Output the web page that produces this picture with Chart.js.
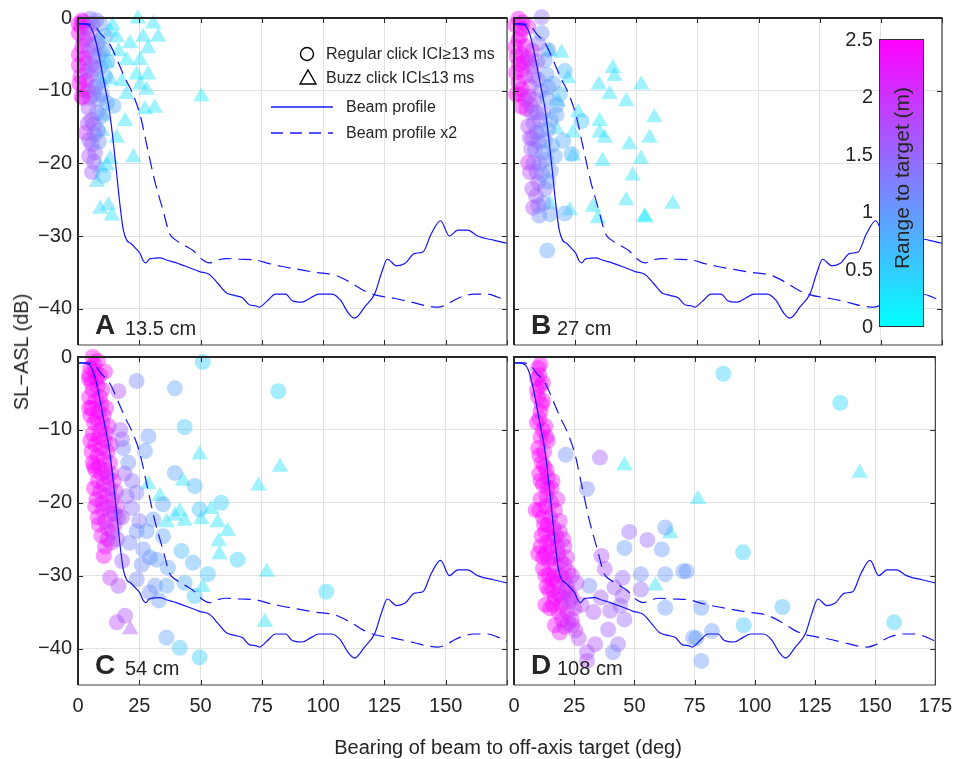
<!DOCTYPE html>
<html>
<head>
<meta charset="utf-8">
<script src="https://cdn.jsdelivr.net/npm/chart.js@4.4.0/dist/chart.umd.min.js"></script>
<style>
body { margin: 0; background: #fff; }
#wrap { position: relative; width: 961px; height: 759px; font-family: "Liberation Sans", Arial, sans-serif; color: #262626; overflow: hidden; }
canvas { position: absolute; left: 0; top: 0; }
.t { position: absolute; white-space: nowrap; line-height: 1; }
.lab { font-weight: bold; font-size: 28px; }
.sub { font-size: 20px; }
.leg { font-size: 16px; }
.cbt { font-size: 20px; text-align: right; width: 40px; }
#cbar { position: absolute; left: 879px; top: 39px; width: 43px; height: 286px; border: 1px solid #333; background: linear-gradient(to top, #00ffff, #ff00ff); z-index: 5; }
</style>
</head>
<body>
<div id="wrap">
  <canvas id="cA" width="961" height="759"></canvas>
  <canvas id="cB" width="961" height="759"></canvas>
  <canvas id="cC" width="961" height="759"></canvas>
  <canvas id="cD" width="961" height="759"></canvas>
</div>
<script>
// eixos
const xTicks = [0, 25, 50, 75, 100, 125, 150, 175];
const yTicks = [0, -10, -20, -30, -40];
const cbTicks = [0, 0.5, 1, 1.5, 2, 2.5];

// perfil do feixe (graus, dB)
const beamAngle = [0, 2, 3.5, 5, 6.4, 8, 9.8, 11, 12.4, 13.5, 14.5, 15.5, 16.5, 17.5, 18.5, 19.9, 21.5, 23.5, 25.3, 26.6, 27.7, 29, 30, 33.4, 36, 40.1, 45, 49.6, 53.6, 57, 60.4, 64, 67.1, 70, 72.5, 73.9, 77, 80.6, 84.7, 87.4, 91.4, 95, 98.2, 103.6, 107, 110.3, 112.8, 117.1, 121.1, 123.8, 126.2, 129.9, 133.3, 137.3, 140.7, 144.1, 147.9, 151.5, 154.9, 158.9, 163, 169.8, 175];
const beamLevel = [-0.8, -0.8, -0.9, -1.2, -2.2, -4.3, -7.4, -9.5, -11.9, -14.5, -17.4, -20.5, -23.8, -26.8, -29.2, -30.6, -31.0, -31.7, -32.4, -33.4, -33.7, -33.2, -33.1, -33.0, -33.3, -33.7, -34.3, -34.9, -35.3, -36.5, -37.8, -38.2, -38.5, -39.5, -39.6, -39.8, -39.0, -38.0, -38.0, -38.9, -39.1, -38.5, -38.0, -38.0, -38.8, -40.6, -41.3, -39.7, -37.9, -35.1, -33.2, -34.1, -33.8, -32.4, -32.2, -29.7, -27.9, -30.0, -29.2, -29.2, -30.0, -30.6, -31.0];
// perfil do feixe x2
const beam2Angle = [0, 4, 7, 9.1, 13.1, 16.5, 19.5, 21.9, 25.3, 28, 31.3, 34.7, 37.4, 40.1, 44, 46.9, 50.9, 53.6, 57, 60.4, 66, 72.5, 78, 83.3, 90, 96.8, 105, 111.7, 116, 121.1, 129.3, 137.3, 142, 146.9, 150, 153.6, 157, 161.7, 167.1, 171, 175];
const beam2Level = [-0.8, -0.8, -1.2, -2.1, -3.7, -6.2, -8.5, -10.1, -13.3, -17.4, -22.4, -26.5, -29.7, -30.6, -31.4, -32.0, -33.3, -33.7, -33.3, -33.1, -33.2, -33.3, -33.8, -34.2, -34.6, -35.0, -35.4, -36.5, -37.4, -38.1, -38.6, -39.2, -39.6, -39.8, -39.5, -38.8, -38.3, -38.0, -38.0, -38.4, -39.0];

// [graus, dB, alcance m] -- A 13.5 cm
const aReg = [[5,-0.1,1.3],[1.7,-0.3,2.4],[9.1,-0.8,1.0],[0.3,-2.1,2.5],[2.3,-3,2.4],[0.3,-5,2.5],[3,-6.2,2.1],[1,-8,2.4],[2.3,-9.9,2.3],[5,-2.1,1.7],[7.7,-3.5,1.3],[6.4,-5.3,1.6],[9.1,-6.7,1.0],[5,-8,1.6],[8.4,-8.9,1.1],[6.4,-10.5,1.5],[11.8,-11.7,0.9],[4.3,-12.4,1.7],[7.7,-13,1.2],[6.4,-14.6,1.4],[3,-15.8,2.0],[5.7,-17.4,1.6],[7,-18.5,1.4],[5.7,-21.2,1.6],[10.4,-21.7,0.6],[14.5,-12.1,0.8],[3.7,-1.2,1.8],[10.4,-4.4,1.0],[3.7,-7.3,1.8],[9.8,-10.5,1.0],[1.7,-3.9,2.4],[0.3,-6.5,2.5],[1.2,-1.2,2.4],[4.5,-4.5,1.7],[7,-7,1.4],[4,-10,1.8],[2,-11,2.2],[8,-15.5,1.2],[4.5,-19,1.7],[6,-0.8,1.5],
  [2,-0.5,2.0],[7.5,-0.3,1.3],[3,-2.8,1.9],[6,-3.8,1.5],[8.5,-5.2,1.1],[2.5,-5.5,2.2],[5.5,-6.5,1.6],[7,-9.5,1.3],[3.2,-8.6,2.0],[5,-11,1.6],[8.5,-11.2,1.1],[9.5,-13.5,1.0],[5.5,-14,1.5],[4,-14.5,1.7],[6.8,-16,1.4],[4.5,-16.8,1.6],[6.5,-19.8,1.5],[8.5,-17,1.1],[11,-8,0.8],[12,-6,0.7],[11,-2.5,0.9],[0.5,-9,2.5],[1.5,-10.8,2.4],[0.2,-0.8,2.5]];
const aBuzz = [[24.4,-0.1,0.3],[30.7,-0.8,0.3],[32.7,-2.6,0.3],[14.1,-1.0,0.3],[15.8,-2.7,0.3],[21.2,-3.5,0.3],[26.6,-2.6,0.3],[28.6,-4.2,0.3],[25.3,-5.8,0.3],[19.9,-5.8,0.2],[11.8,-6.2,0.4],[28.6,-7.8,0.3],[23.9,-7.8,0.2],[17.9,-8.7,0.3],[25.3,-9.2,0.3],[28,-9.9,0.3],[13.1,-8.5,0.4],[19.8,-10.5,0.3],[9.8,-8.9,0.5],[50.3,-10.8,0.2],[27.3,-12.6,0.3],[31.3,-12.4,0.3],[19.2,-14.2,0.3],[10.4,-13.5,0.5],[15.8,-16.5,0.3],[9.8,-15.6,0.5],[22.6,-19.2,0.3],[13.1,-19.4,0.4],[9.1,-20.6,0.5],[11.8,-20.3,0.4],[7.7,-22.6,0.5],[9.1,-26.3,0.4],[12.4,-25.8,0.4],[13.8,-27.2,0.3],[10.4,-4.6,0.5],[16.5,-4.6,0.3],[13.1,-1.9,0.3],[8.4,-2.8,0.6]];

// B 27 cm
const bReg = [[1.8,-0.1,2.4],[5.8,-1.2,2.2],[11.3,0.1,1.4],[1.8,-3,2.5],[4.5,-3.9,2.4],[1.1,-5.3,2.5],[9.9,-3.5,1.4],[11.3,-2.1,1.1],[3.1,-7.1,2.4],[7.2,-6.7,1.8],[12.6,-5.8,1.0],[14,-4.4,1.0],[1.8,-8.9,2.5],[6.5,-9.4,1.8],[9.9,-8.5,1.4],[13.3,-7.8,1.0],[4.5,-11.2,2.4],[8.6,-11.2,1.6],[13.3,-11,1.0],[18.7,-10.5,0.7],[17.4,-13.3,0.9],[7.2,-13,1.7],[10.6,-14,1.4],[5.8,-14.9,1.8],[9.2,-15.8,1.4],[14,-15.3,1.0],[12.6,-16.9,1.1],[20.1,-16.9,0.8],[8.6,-18.1,1.2],[11.9,-18.5,1.1],[23.5,-18.7,0.8],[16.7,-19,0.9],[5.8,-19.9,2.1],[9.2,-21.2,1.6],[6.5,-21.2,1.8],[9.9,-22.6,1.6],[12.6,-23.5,1.3],[7.9,-26.1,1.8],[9.9,-25.8,1.5],[10.3,-27.2,1.1],[14.7,-27,1.0],[20.8,-26.9,0.9],[13.6,-32,0.9],[20.8,-7.3,0.7],[27.6,-14.2,0.6],[17.4,-12,0.9],[3,-1.5,2.5],[2.5,-10.5,2.5],[7.5,-4.5,2.0],[4,-6,2.4],[11,-10,1.3],[7.5,-16.5,1.5],[15,-21,1.0],[12,-13,1.3],
  [0.5,-1,2.5],[3.5,-0.6,2.5],[2.5,-2.5,2.5],[0.5,-4,2.5],[3,-5,2.4],[5.5,-5.5,2.2],[2,-6.3,2.5],[0.8,-7.5,2.5],[4.5,-8,2.3],[3,-9.8,2.4],[0.8,-10.5,2.5],[5,-12.5,2.2],[3,-12.2,2.4],[8,-8,1.6],[6,-10.8,1.9],[7,-12,1.7],[9,-13,1.5],[8,-14.5,1.5],[11,-15.5,1.2],[6.5,-16.5,1.7],[10,-17,1.3],[7,-18,1.6],[13,-19.5,1.1],[10.5,-20,1.3],[8,-20,1.5],[11.5,-21.5,1.2],[14,-22.5,1.0],[7.5,-23.5,1.7],[9,-24.5,1.6],[12,-25.5,1.2],[6,-6,2.0],[9.5,-6,1.5],[15.5,-17.5,0.9],[16,-9,0.9],[15,-14,0.9],[14,-9.5,1.0]];
const bBuzz = [[14.7,-4.6,0.3],[19.4,-4.8,0.3],[40.4,-6.9,0.3],[41.1,-8.0,0.3],[34.7,-9.2,0.3],[52,-9.2,0.3],[39.1,-10.5,0.3],[45.9,-11.5,0.3],[22.1,-8.3,0.3],[18,-11.5,0.4],[26.2,-13.0,0.3],[35,-14.2,0.2],[57.4,-13.7,0.3],[35,-15.8,0.3],[37.1,-16.5,0.3],[55.4,-16.5,0.3],[24.1,-15.8,0.3],[17.4,-15.3,0.4],[47.2,-17.4,0.3],[36.2,-19.7,0.3],[51.9,-19.4,0.3],[24.1,-19.0,0.3],[48.5,-21.7,0.3],[45.9,-25.1,0.3],[64.9,-25.6,0.3],[32.3,-26.0,0.3],[34.3,-27.6,0.3],[53.4,-27.3,0.2],[53.6,-27.5,0.2],[22.8,-26.5,0.3],[14.7,-25.6,0.4]];

// C 54 cm
const cReg = [[6,0,2.5],[8,-0.5,2.4],[5,-1.5,2.5],[7,-2,2.5],[9,-2.5,2.4],[5.5,-3.5,2.5],[8,-4,2.4],[10,-4.5,2.3],[4.5,-5.5,2.5],[7,-6,2.5],[9.5,-6.5,2.4],[11.5,-7,2.3],[5,-8,2.5],[7.5,-8.5,2.5],[10,-9,2.4],[12.5,-9.5,2.3],[6,-10.5,2.5],[8.5,-11,2.5],[11,-11.5,2.4],[13.5,-12,2.2],[5.5,-13,2.5],[8,-13.5,2.5],[10.5,-14,2.4],[13,-14.5,2.3],[7,-15.5,2.5],[9.5,-16,2.4],[12,-16.5,2.3],[14.5,-17,2.2],[6.5,-18,2.5],[9,-18.5,2.4],[11.5,-19,2.3],[14,-19.5,2.2],[7,-20.5,2.4],[10,-21,2.3],[13,-21.5,2.2],[16,-20.5,2.0],[8.5,-23,2.3],[12,-23.5,2.1],[15,-23,2.0],[10.5,-27.3,2.4],[13.5,-25.5,1.9],[4.5,-3,2.5],[6.5,-15,2.5],[11,-2,2.4],
  [6.5,-1,2.5],[4.5,-2.5,2.5],[7.5,-3,2.5],[6,-4.5,2.5],[9,-5.5,2.4],[5.5,-7,2.5],[8.5,-7.5,2.4],[10.5,-8,2.3],[6.5,-9,2.5],[9,-10,2.4],[11.5,-10.5,2.3],[7,-12,2.5],[9.5,-12.5,2.4],[12,-13,2.3],[6,-14.5,2.5],[8.5,-15,2.4],[11,-15.5,2.3],[13.5,-16,2.2],[8,-17,2.4],[10.5,-17.5,2.3],[13,-18,2.2],[7.5,-19.5,2.4],[10,-20,2.3],[12.5,-20.5,2.2],[15,-21.5,2.1],[8,-22,2.4],[11,-22.5,2.2],[14,-24,2.1],[9.5,-24.5,2.3],[12,-25,2.2],[11,-26,2.3],[5,-11.5,2.5],[4.5,-7,2.5],[15.5,-18.5,2.0],[16.5,-22,1.9],
  [16.5,-4.7,1.7],[17.2,-10,1.6],[17.9,-11.3,1.6],[19,-16,1.6],[19.9,-19.1,1.5],[21.9,-20.7,1.4],[18,-22,1.6],[16,-25,1.7],[13.1,-30.3,1.9],[16.5,-31.4,1.7],[15.8,-36.4,1.8],[19.2,-35.5,1.7],[22,-17,1.4],[25,-22.5,1.3],[18,-28,1.6],
  [23.9,-3.3,1.2],[39.5,-4.3,0.9],[50.9,-0.7,0.5],[43.5,-9.6,0.6],[28.7,-10.9,1.0],[27.3,-12.9,1.0],[20.5,-14.5,1.1],[39.5,-15.9,0.9],[47.6,-17.7,0.7],[34.7,-20.2,0.9],[49.6,-20.9,0.6],[58.4,-20,0.5],[23.9,-18.6,1.3],[30.7,-22.3,1.0],[34.7,-24.6,0.9],[23.9,-23.9,1.1],[28,-23.9,1.0],[26.6,-26.4,1.1],[32,-27.8,1.0],[36.7,-28.9,0.9],[26,-28.5,1.1],[29.3,-27.5,1.0],[42.2,-26.6,0.7],[46.9,-28.2,0.8],[53,-29.8,0.6],[65.1,-27.8,0.5],[31.4,-31.4,1.0],[29.3,-32.3,1.1],[36.1,-31.4,0.9],[43.5,-31,0.8],[47.6,-32.8,0.6],[36.1,-38.5,0.9],[41.5,-39.9,0.6],[49.6,-41.2,0.5],[81.7,-4.7,0.4],[101.3,-32.2,0.4],[18.5,-12.5,1.2],[21,-25.5,1.2],[24,-30.5,1.2],[33,-33.4,1.0]];
const cBuzz = [[82.4,-15.1,0.3],[73.6,-17.7,0.3],[77,-29.5,0.3],[76.2,-36.4,0.3],[49.6,-13.4,0.3],[42.8,-17,0.3],[28.7,-17.5,0.3],[33.4,-19.1,0.3],[41.5,-21.2,0.3],[39.5,-21.8,0.4],[43.5,-22.5,0.3],[36.1,-22.7,0.3],[50.3,-22.3,0.3],[54.3,-20.9,0.3],[57,-22.7,0.3],[61.1,-23.9,0.3],[57.4,-25.3,0.3],[57.7,-27.1,0.3],[50.9,-31.6,0.3],[21.3,-37.4,1.7]];

// D 108 cm
const dReg = [[10,-1.5,2.5],[10.5,-2.5,2.5],[11,-4,2.5],[10,-5.5,2.5],[12,-6,2.4],[11,-7.5,2.5],[9.5,-9,2.5],[13,-9.5,2.4],[11,-11,2.5],[10,-12.5,2.5],[12.5,-13,2.4],[11.5,-14.5,2.5],[13.5,-15.5,2.4],[10.5,-16,2.5],[12,-17.5,2.5],[14,-18,2.4],[11,-19.5,2.5],[13,-20.5,2.4],[15.5,-20,2.3],[17,-21,2.3],[12,-22,2.5],[14,-23,2.4],[16.5,-23.5,2.3],[19,-22.5,2.2],[11.5,-24.5,2.5],[13.5,-25.5,2.4],[15,-26,2.4],[18,-26,2.3],[20.5,-25,2.2],[12,-27.5,2.5],[14.5,-28,2.4],[17,-28.5,2.3],[19.5,-28,2.2],[22,-27.5,2.1],[13,-30,2.5],[16,-30.5,2.4],[18,-31,2.3],[21,-30.5,2.2],[24,-30,2.0],[14.5,-32,2.5],[17,-33,2.4],[20,-33,2.3],[23,-32.5,2.1],[15,-34.5,2.5],[18.5,-35,2.4],[22,-35,2.2],[25,-34.5,2.0],[17,-36.8,2.4],[21,-37,2.2],[24,-36,2.0],[9.5,-3,2.5],[12,-3.5,2.4],[14,-11.5,2.3],[16,-17,2.3],[9,-21,2.5],[10,-27,2.5],[13,-34,2.5],[19,-24,2.2],[21,-26,2.1],
  [11,-1,2.5],[9.5,-4.5,2.5],[11.5,-6.5,2.5],[10.5,-8.5,2.5],[12,-10,2.5],[13.5,-11,2.4],[10.5,-13.5,2.5],[12.5,-15,2.5],[11,-17,2.5],[13.5,-19,2.4],[10.5,-21,2.5],[12.5,-23,2.5],[15,-22,2.4],[17.5,-24.5,2.3],[13,-24,2.5],[16,-25,2.4],[11,-26,2.5],[13,-27,2.5],[16,-27.5,2.4],[18.5,-27,2.3],[21,-28.5,2.2],[12,-29,2.5],[14.5,-30,2.5],[17,-30,2.4],[19.5,-30,2.3],[22.5,-29.5,2.2],[13.5,-31.5,2.5],[16,-32,2.4],[18.5,-32.5,2.3],[21.5,-32,2.2],[16,-34,2.5],[19.5,-34,2.3],[24,-33,2.0],[20,-36,2.3],[22.5,-36.5,2.1],[25.5,-37.5,1.9],[19,-37.8,2.2],[14,-16.5,2.4],[15.5,-18,2.4],[18,-19.5,2.2],
  [21.5,-13.4,1.1],[35.7,-13.8,1.6],[30.3,-18.1,1.2],[47.9,-24,1.5],[55.4,-25.1,1.5],[62.8,-23.4,1.0],[45.9,-26.2,1.0],[61.4,-26.4,1.0],[52.7,-29.8,1.1],[62.8,-29.8,1.0],[70.3,-29.4,1.0],[45.1,-30.3,1.5],[52.7,-31.9,1.5],[45.1,-32.8,1.6],[41.7,-31.6,1.6],[37.7,-29.1,1.7],[36.3,-27.3,1.7],[31.3,-31.4,1.2],[62.8,-34.4,1.0],[44.1,-34.1,1.5],[40,-34.8,1.6],[39.1,-37.4,1.6],[45.9,-36,1.5],[43.2,-39.4,1.5],[41.1,-40.5,1.2],[33.7,-39.4,1.7],[30.3,-40.5,1.7],[30.3,-41.7,1.7],[26.9,-38.6,1.8],[24.2,-36.8,2.0],[74.4,-38.5,1.0],[87,-2.3,0.5],[135.5,-6.3,0.4],[95.1,-26.8,0.5],[71.7,-29.4,1.0],[77.8,-34.4,1.0],[95.4,-36.8,0.6],[111.5,-34.3,0.7],[157.9,-36.4,0.5],[75.7,-38.6,1.0],[82.2,-37.6,1.0],[77.8,-41.7,1.0],[28,-34,1.8],[33,-35,1.7],[36,-33,1.6],[26,-31,1.8],[23,-33.5,1.9],[22,-31.5,2.0]];
const dBuzz = [[45.9,-14.9,0.2],[64.9,-24.2,0.3],[58.7,-31.4,0.3],[76.4,-19.5,0.3],[143.6,-15.9,0.3]];

const panelLabels = [["A", "13.5 cm"], ["B", "27 cm"], ["C", "54 cm"], ["D", "108 cm"]];

const FONT = '"Liberation Sans", Arial, sans-serif';
const W = 961, H = 759;

// mapa de cores "cool": ciano -> magenta
function cool(r, a) {
    const t = Math.min(1, Math.max(0, r / 2.5));
    return `rgba(${Math.round(255 * t)},${Math.round(255 * (1 - t))},255,${a})`;
}

const toPts = (arr) => arr.map((p) => ({ x: p[0], y: p[1], range: p[2] }));
const toLine = (xs, ys) => xs.map((x, i) => ({ x: x, y: ys[i] }));
const minus = (v) => (v < 0 ? "\u2212" + (-v) : "" + v);

// moldura com ticks para dentro
const frame = {
    id: "frame",
    afterDraw(chart) {
        const { ctx, chartArea: a, scales } = chart;
        ctx.save();
        ctx.strokeStyle = "#262626";
        ctx.lineWidth = 1;
        ctx.beginPath();
        xTicks.forEach((v) => {
            const x = Math.round(scales.x.getPixelForValue(v)) + 0.5;
            ctx.moveTo(x, a.bottom); ctx.lineTo(x, a.bottom - 5);
            ctx.moveTo(x, a.top); ctx.lineTo(x, a.top + 5);
        });
        yTicks.forEach((v) => {
            const y = Math.round(scales.y.getPixelForValue(v)) + 0.5;
            ctx.moveTo(a.left, y); ctx.lineTo(a.left + 5, y);
            ctx.moveTo(a.right, y); ctx.lineTo(a.right - 5, y);
        });
        ctx.stroke();
        ctx.lineWidth = 1.2;
        ctx.strokeStyle = "#404040";
        ctx.beginPath();
        ctx.moveTo(a.right, a.top); ctx.lineTo(a.right, a.bottom); ctx.lineTo(a.left, a.bottom);
        ctx.stroke();
        ctx.lineWidth = 2;
        ctx.strokeStyle = "#262626";
        ctx.beginPath();
        ctx.moveTo(a.left, a.bottom); ctx.lineTo(a.left, a.top); ctx.lineTo(a.right + 0.5, a.top);
        ctx.stroke();
        ctx.restore();
    },
};

// simbolos da legenda (painel A)
const legendMarks = {
    id: "legendMarks",
    afterDraw(chart) {
        const ctx = chart.ctx;
        ctx.save();
        ctx.strokeStyle = "#000";
        ctx.lineWidth = 1.4;
        ctx.beginPath();
        ctx.arc(307, 54, 6.5, 0, Math.PI * 2);
        ctx.stroke();
        ctx.beginPath();
        ctx.moveTo(308, 70); ctx.lineTo(316, 84); ctx.lineTo(300, 84); ctx.closePath();
        ctx.stroke();
        ctx.strokeStyle = "#1a1aff";
        ctx.lineWidth = 1.3;
        ctx.beginPath();
        ctx.moveTo(271, 107); ctx.lineTo(333, 107);
        ctx.stroke();
        ctx.setLineDash([12, 7]);
        ctx.beginPath();
        ctx.moveTo(271, 133); ctx.lineTo(333, 133);
        ctx.stroke();
        ctx.restore();
    },
};

const panels = [
    { id: "cA", reg: aReg, buzz: aBuzz, box: [78, 18, 507, 345], yLab: true, xLab: false, legend: true },
    { id: "cB", reg: bReg, buzz: bBuzz, box: [514, 18, 942, 345], yLab: false, xLab: false },
    { id: "cC", reg: cReg, buzz: cBuzz, box: [78, 357, 507, 685], yLab: true, xLab: true, hide175: true },
    { id: "cD", reg: dReg, buzz: dBuzz, box: [514, 357, 942, 685], yLab: false, xLab: true },
];

panels.forEach((p, k) => {
    const box = p.box;
    new Chart(document.getElementById(p.id), {
        type: "scatter",
        data: {
            datasets: [
                {
                    type: "line",
                    data: toLine(beamAngle, beamLevel),
                    borderColor: "#1414ff",
                    borderWidth: 1.2,
                    pointRadius: 0,
                    cubicInterpolationMode: "monotone",
                },
                {
                    type: "line",
                    data: toLine(beam2Angle, beam2Level),
                    borderColor: "#1414ff",
                    borderWidth: 1.2,
                    borderDash: [13, 7],
                    pointRadius: 0,
                    cubicInterpolationMode: "monotone",
                },
                {
                    data: toPts(p.reg),
                    pointStyle: "circle",
                    pointRadius: 8,
                    borderWidth: 0,
                    backgroundColor: (c) => cool(c.raw ? c.raw.range : 0, 0.42),
                    clip: false,
                },
                {
                    data: toPts(p.buzz),
                    pointStyle: "triangle",
                    pointRadius: 9.5,
                    borderWidth: 0,
                    backgroundColor: (c) => cool(c.raw ? c.raw.range : 0, 0.42),
                    clip: false,
                },
            ],
        },
        options: {
            responsive: false,
            animation: false,
            events: [],
            layout: { padding: { left: 0, top: box[1], right: W - box[2], bottom: 0 } },
            plugins: { legend: { display: false }, tooltip: { enabled: false } },
            scales: {
                x: {
                    type: "linear",
                    min: 0,
                    max: 175,
                    afterBuildTicks: (s) => { s.ticks = xTicks.map((v) => ({ value: v })); },
                    afterFit: (s) => { s.height = H - box[3]; },
                    grid: { color: "#e2e2e2", drawTicks: false },
                    border: { display: false },
                    ticks: {
                        display: p.xLab,
                        padding: 9,
                        color: "#262626",
                        font: { size: 20, family: FONT },
                        maxRotation: 0,
                        callback: (v) => (p.hide175 && v === 175 ? "" : "" + v),
                    },
                },
                y: {
                    type: "linear",
                    min: -45,
                    max: 0,
                    afterBuildTicks: (s) => { s.ticks = yTicks.map((v) => ({ value: v })); },
                    afterFit: (s) => { s.width = box[0]; },
                    grid: { color: "#e2e2e2", drawTicks: false },
                    border: { display: false },
                    ticks: {
                        display: p.yLab,
                        padding: 6,
                        color: "#262626",
                        font: { size: 20, family: FONT },
                        callback: (v) => minus(v),
                    },
                },
            },
        },
        plugins: p.legend ? [frame, legendMarks] : [frame],
    });

    // rotulos dos paineis
    const wrap = document.getElementById("wrap");
    const l = document.createElement("div");
    l.className = "t lab";
    l.style.left = (box[0] + 17) + "px";
    l.style.top = (box[3] - 34) + "px";
    l.textContent = panelLabels[k][0];
    wrap.appendChild(l);
    const s = document.createElement("div");
    s.className = "t sub";
    s.style.left = (box[0] + (k % 2 ? 43 : 47)) + "px";
    s.style.top = (box[3] - 27) + "px";
    s.textContent = panelLabels[k][1];
    wrap.appendChild(s);
});

// legenda, titulos e barra de cores
const wrap = document.getElementById("wrap");
function addText(txt, cls, css) {
    const d = document.createElement("div");
    d.className = "t " + cls;
    d.textContent = txt;
    Object.assign(d.style, css);
    wrap.appendChild(d);
    return d;
}
addText("Regular click ICI\u226513 ms", "leg", { left: "326px", top: "46px" });
addText("Buzz click ICI\u226413 ms", "leg", { left: "326px", top: "70px" });
addText("Beam profile", "leg", { left: "346px", top: "99px" });
addText("Beam profile x2", "leg", { left: "346px", top: "125px" });

addText("Bearing of beam to off-axis target (deg)", "", { left: "508px", top: "737px", fontSize: "20px", transform: "translateX(-50%)" });
addText("SL\u2212ASL (dB)", "", { left: "21px", top: "352px", fontSize: "20px", transform: "translate(-50%,-50%) rotate(-90deg)" });

const cb = document.createElement("div");
cb.id = "cbar";
wrap.appendChild(cb);
addText("Range to target (m)", "", { left: "901px", top: "178px", fontSize: "21px", transform: "translate(-50%,-50%) rotate(-90deg)", zIndex: 6 });
cbTicks.forEach((v) => {
    const y = 326 - (v / 2.5) * 287;
    addText("" + v, "cbt", { left: "833px", top: (y - 10) + "px" });
});
</script>
</body>
</html>
